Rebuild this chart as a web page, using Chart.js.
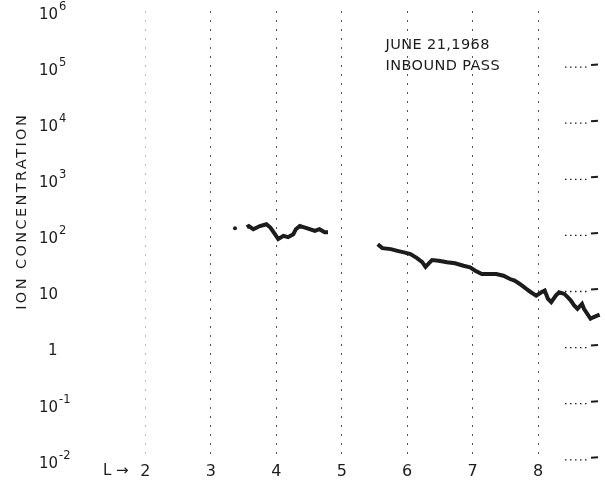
<!DOCTYPE html>
<html>
<head>
<meta charset="utf-8">
<script src="https://cdn.jsdelivr.net/npm/chart.js@4"></script>
<style>
html,body{margin:0;padding:0;background:#fff;}
#wrap{width:605px;height:487px;position:relative;}
</style>
</head>
<body>
<div id="wrap"><canvas id="c"></canvas></div>
<script>
// ---- data ----
const xTickValues = [2, 3, 4, 5, 6, 7, 8];
const yTickValues = [1e6, 1e5, 1e4, 1e3, 1e2, 10, 1, 0.1, 0.01];
const yTickBase = ['10', '10', '10', '10', '10', '10', '1', '10', '10'];
const yTickExp  = ['6', '5', '4', '3', '2', '', '', '-1', '-2'];
const rightMarkValues = [1e5, 1e4, 1e3, 1e2, 10, 1, 0.1, 0.01];

const strayL = [3.37];
const strayIon = [134];

const seg1L   = [3.55, 3.58, 3.65, 3.75, 3.85, 3.91, 3.98, 4.03, 4.11, 4.18, 4.26, 4.30, 4.36, 4.44, 4.51, 4.59, 4.66, 4.74, 4.79];
const seg1Ion = [140, 147, 129, 147, 158, 138, 105, 86, 98, 93, 105, 129, 147, 138, 129, 120, 129, 114, 114];

const seg2L   = [5.55, 5.62, 5.75, 5.85, 5.95, 6.05, 6.15, 6.23, 6.28, 6.33, 6.38, 6.48, 6.61, 6.73, 6.86, 6.96, 7.04, 7.14, 7.21, 7.36, 7.47, 7.57, 7.64, 7.72, 7.82, 7.89, 7.97, 8.05, 8.10, 8.15, 8.20, 8.27, 8.32, 8.40, 8.45, 8.50, 8.55, 8.60, 8.67, 8.70, 8.75, 8.80, 8.85, 8.91, 8.94];
const seg2Ion = [69.8, 59.3, 56.9, 53.1, 49.8, 46.4, 39.4, 33.5, 27.6, 31.8, 36.3, 35.3, 33.1, 31.8, 28.8, 27.0, 23.5, 20.5, 20.5, 20.5, 19.1, 16.7, 15.6, 13.6, 11.1, 9.7, 8.46, 9.7, 10.4, 7.4, 6.46, 8.46, 9.7, 9.06, 7.93, 6.9, 5.62, 4.92, 6.03, 4.92, 4.01, 3.27, 3.5, 3.74, 3.85];

const annotationLines = ['JUNE 21,1968', 'INBOUND PASS'];
const annotationAnchor = { L: 5.67, values: [2.45e5, 1.05e5] };
const yTitle = 'ION CONCENTRATION';
const xTitle = 'L \u2192';

const toPts = (xs, ys) => xs.map((x, i) => ({ x: x, y: ys[i] }));

const ink = '#1c1c1c';

const decor = {
  id: 'decor',
  afterDraw(chart) {
    const ctx = chart.ctx;
    const ys = chart.scales.y, xs = chart.scales.x;
    ctx.save();
    ctx.fillStyle = ink;
    ctx.strokeStyle = ink;
    // y tick labels with superscripts
    yTickValues.forEach((v, i) => {
      const py = ys.getPixelForValue(v) + 4;
      ctx.textBaseline = 'middle';
      ctx.textAlign = 'left';
      ctx.font = '15px "DejaVu Sans"';
      const left = yTickBase[i] === '1' ? 48 : 39;
      const wb = ctx.measureText(yTickBase[i]).width;
      ctx.fillText(yTickBase[i], left, py);
      if (yTickExp[i]) {
        ctx.font = '11.5px "DejaVu Sans"';
        ctx.fillText(yTickExp[i], left + wb + 1, py - 8);
      }
    });
    // y title
    ctx.save();
    ctx.translate(22, (ys.getPixelForValue(1e3) + ys.getPixelForValue(1e2)) / 2 + 4);
    ctx.rotate(-Math.PI / 2);
    ctx.font = '14.5px "DejaVu Sans"';
    ctx.letterSpacing = '2.4px';
    ctx.textAlign = 'center';
    ctx.textBaseline = 'middle';
    ctx.fillText(yTitle, 0, 0);
    ctx.restore();
    // x title "L ->"
    ctx.font = '15px "DejaVu Sans"';
    ctx.textAlign = 'center';
    ctx.textBaseline = 'middle';
    ctx.fillText(xTitle, xs.getPixelForValue(1.55), chart.chartArea.bottom + 11);
    // annotation
    ctx.font = '14.5px "DejaVu Sans"';
    ctx.letterSpacing = '0.4px';
    ctx.textAlign = 'left';
    annotationLines.forEach((t, i) => {
      ctx.fillText(t, xs.getPixelForValue(annotationAnchor.L), ys.getPixelForValue(annotationAnchor.values[i]));
    });
    ctx.letterSpacing = '0px';
    // right-hand tick marks
    const r = chart.chartArea.right;
    ctx.lineWidth = 1.3;
    rightMarkValues.forEach(v => {
      const py = ys.getPixelForValue(v);
      ctx.setLineDash([1.5, 3.5]);
      ctx.beginPath(); ctx.moveTo(r - 36, py); ctx.lineTo(r - 12, py); ctx.stroke();
      ctx.setLineDash([]);
      ctx.lineWidth = 2;
      ctx.beginPath(); ctx.moveTo(r - 10, py - 2); ctx.lineTo(r - 3, py - 2.5); ctx.stroke();
      ctx.lineWidth = 1.3;
    });
    ctx.restore();
  }
};

new Chart(document.getElementById('c'), {
  type: 'scatter',
  data: {
    datasets: [
      { label: 'stray', data: toPts(strayL, strayIon), pointRadius: 2, pointBackgroundColor: ink, pointBorderWidth: 0, showLine: false },
      { label: 'seg1', data: toPts(seg1L, seg1Ion), showLine: true, borderColor: ink, borderWidth: 4, pointRadius: 0, tension: 0 },
      { label: 'seg2', data: toPts(seg2L, seg2Ion), showLine: true, borderColor: ink, borderWidth: 4, pointRadius: 0, tension: 0 }
    ]
  },
  options: {
    responsive: true,
    maintainAspectRatio: false,
    animation: false,
    layout: { padding: { left: 70, right: 0, top: 11, bottom: 4 } },
    plugins: { legend: { display: false }, tooltip: { enabled: false } },
    scales: {
      x: {
        type: 'linear',
        min: 0.85,
        max: 8.96,
        afterBuildTicks: (s) => { s.ticks = xTickValues.map(v => ({ value: v })); },
        ticks: { color: ink, font: { family: 'DejaVu Sans', size: 16 }, padding: 2, callback: (v) => String(v) },
        grid: {
          drawTicks: false,
          color: (c) => (c.tick && c.tick.value === 2) ? 'rgba(60,60,60,0.35)' : 'rgba(40,40,40,0.8)',
          borderDash: [2, 7],
          lineWidth: 1
        },
        border: { display: false, dash: [2, 7] }
      },
      y: {
        type: 'logarithmic',
        min: 0.01,
        max: 1e6,
        afterBuildTicks: (s) => { s.ticks = yTickValues.map(v => ({ value: v })); },
        ticks: { display: false },
        grid: { display: false, drawTicks: false },
        border: { display: false }
      }
    }
  },
  plugins: [decor]
});
</script>
</body>
</html>
